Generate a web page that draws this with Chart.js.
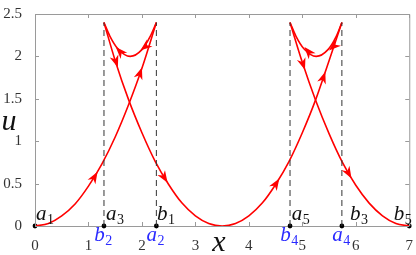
<!DOCTYPE html>
<html><head><meta charset="utf-8">
<script src="https://cdn.jsdelivr.net/npm/chart.js@4"></script>
<style>html,body{margin:0;padding:0;background:#fff}#wrap{width:416px;height:255px}</style>
</head><body><div id="wrap"><canvas id="c" width="416" height="255"></canvas></div>
<script>
// ---- data ----
const xTicks = [0,1,2,3,4,5,6,7];
const yTicks = [0,0.5,1,1.5,2,2.5];
const b2 = 1.29, a2 = 2.27, b4 = 4.77, a4 = 5.74;
const leftX  = [0,0.25,0.5,0.75,1,1.25,1.5,1.75,2,2.27];
const leftU  = [0,0.03,0.12,0.26,0.47,0.73,1.05,1.43,1.86,2.4];
const midX   = [1.29,1.5,1.75,2,2.25,2.5,2.75,3,3.25,3.5,3.75,4,4.25,4.5,4.75,5,5.25,5.5,5.74];
const midU   = [2.4,1.95,1.49,1.10,0.76,0.49,0.27,0.12,0.03,0,0.03,0.12,0.27,0.49,0.76,1.10,1.49,1.95,2.4];
const rightX = [4.77,5,5.25,5.5,5.75,6,6.25,6.5,6.75,7];
const rightU = [2.4,1.93,1.48,1.09,0.75,0.48,0.27,0.12,0.03,0];
const arc1X  = [1.29,1.4,1.55,1.78,2.0,2.15,2.27];
const arc1U  = [2.4,2.24,2.09,2.0,2.08,2.23,2.4];
const arc2X  = [4.77,4.88,5.03,5.26,5.48,5.63,5.74];
const arc2U  = [2.4,2.24,2.09,2.0,2.08,2.23,2.4];
const dashX  = [b2,a2,b4,a4];
const dashTop = 2.4;
const dotX   = [0,b2,a2,b4,a4,7];
// arrows: [tailX, tailU, tipX, tipU]
const arrows = [
  [1.05,0.51,1.17,0.64],[1.92,1.72,2.0,1.87],
  [1.47,2.02,1.55,1.87],[2.38,0.61,2.48,0.51],
  [4.47,0.46,4.57,0.56],[5.35,1.67,5.43,1.82],
  [4.97,1.99,5.05,1.84],[5.82,0.67,5.92,0.56],
  [1.60,2.05,1.51,2.11],[2.05,2.11,1.97,2.07],
  [5.12,2.05,5.04,2.11],[5.57,2.11,5.50,2.07]
];
const blackLabels = [['a','1',0.02],['a','3',1.33],['b','1',2.28],['a','5',4.80],['b','3',5.89],['b','5',6.71]];
const blueLabels  = [['b','2',b2],['a','2',a2],['b','4',b4],['a','4',a4]];

const pts = (xs, ys) => xs.map((x,i)=>({x, y: ys[i]}));
const RED = '#ff0000';
const curve = (xs, ys) => ({data: pts(xs,ys), showLine:true, borderColor:RED, borderWidth:1.6,
  pointRadius:0, cubicInterpolationMode:'monotone', fill:false});
const datasets = [];
dashX.forEach(x => datasets.push({data:[{x,y:0},{x,y:dashTop}], showLine:true, borderColor:'#333',
  borderWidth:1, borderDash:[6,4], pointRadius:0}));
[[leftX,leftU],[midX,midU],[rightX,rightU],[arc1X,arc1U],[arc2X,arc2U]].forEach(([a,b])=>datasets.push(curve(a,b)));
datasets.push({data: dotX.map(x=>({x,y:0})), showLine:false, pointRadius:2.4, pointBackgroundColor:'#000',
  pointBorderColor:'#000', pointBorderWidth:0, clip:false});

const FAM = '"Liberation Serif"';
const AXC = '#9a9a9a';

const deco = {
  id:'deco',
  afterDatasetsDraw(chart){
    const ctx = chart.ctx, xs = chart.scales.x, ys = chart.scales.y, ca = chart.chartArea;
    ctx.save();
    ctx.strokeStyle = AXC; ctx.lineWidth = 1;
    ctx.beginPath();
    ctx.moveTo(ca.left, ca.top+0.5); ctx.lineTo(ca.right+0.5, ca.top+0.5); ctx.lineTo(ca.right+0.5, ca.bottom);
    xTicks.forEach(v=>{const p=Math.round(xs.getPixelForValue(v))+0.5;
      ctx.moveTo(p, ca.bottom); ctx.lineTo(p, ca.bottom-4);
      ctx.moveTo(p, ca.top); ctx.lineTo(p, ca.top+4);});
    yTicks.forEach(v=>{const p=Math.round(ys.getPixelForValue(v))+0.5;
      ctx.moveTo(ca.left, p); ctx.lineTo(ca.left+4, p);
      ctx.moveTo(ca.right, p); ctx.lineTo(ca.right-4, p);});
    ctx.stroke();
    ctx.fillStyle = RED;
    arrows.forEach(([tx,tu,hx,hu])=>{
      const x0=xs.getPixelForValue(tx), y0=ys.getPixelForValue(tu);
      const x1=xs.getPixelForValue(hx), y1=ys.getPixelForValue(hu);
      const ang=Math.atan2(y1-y0,x1-x0);
      ctx.save(); ctx.translate(x1,y1); ctx.rotate(ang);
      ctx.beginPath(); ctx.moveTo(0,0); ctx.lineTo(-12,-4.5); ctx.lineTo(-8.5,0); ctx.lineTo(-12,4.5); ctx.closePath();
      ctx.fill(); ctx.restore();
    });
    const drawLab = (lab, x, base, color, align) => {
      ctx.fillStyle = color;
      ctx.font = 'italic 21px '+FAM; const w1 = ctx.measureText(lab[0]).width;
      ctx.font = '14px '+FAM; const w2 = ctx.measureText(lab[1]).width;
      let left = x; if (align==='center') left = x-(w1+w2)/2;
      ctx.textAlign='left'; ctx.textBaseline='alphabetic';
      ctx.font = 'italic 21px '+FAM; ctx.fillText(lab[0], left, base);
      ctx.font = '14px '+FAM; ctx.fillText(lab[1], left+w1+0.5, base+4);
    };
    const y0p = ys.getPixelForValue(0);
    blackLabels.forEach(l=>drawLab(l, xs.getPixelForValue(l[2]), y0p-6.5, '#111', 'left'));
    blueLabels.forEach(l=>drawLab(l, xs.getPixelForValue(l[2])-1, y0p+14.5, '#2a2aff', 'center'));
    ctx.fillStyle='#111'; ctx.font='italic 30px '+FAM; ctx.textAlign='center'; ctx.textBaseline='alphabetic';
    ctx.fillText('u', 9, 130);
    ctx.fillText('x', 219, 251);
    ctx.restore();
  }
};

new Chart(document.getElementById('c'), {
  type:'scatter',
  data:{datasets},
  options:{
    responsive:false, animation:false, devicePixelRatio:1,
    layout:{padding:{left:0,right:4,top:8,bottom:0}},
    plugins:{legend:{display:false}, tooltip:{enabled:false}},
    scales:{
      x:{type:'linear', min:0, max:7, afterBuildTicks:s=>{s.ticks=xTicks.map(v=>({value:v}));},
        grid:{display:false}, border:{display:true,color:AXC,width:1},
        ticks:{font:{family:FAM,size:15}, color:'#333', padding:3, maxRotation:0, callback:v=>String(v)},
        afterFit:s=>{s.height=29;}},
      y:{type:'linear', min:0, max:2.5, afterBuildTicks:s=>{s.ticks=yTicks.map(v=>({value:v}));},
        grid:{display:false}, border:{display:true,color:AXC,width:1},
        ticks:{font:{family:FAM,size:15}, color:'#333', padding:5, callback:v=>String(v)},
        afterFit:s=>{s.width=35;}}
    }
  },
  plugins:[deco]
});
</script></body></html>
